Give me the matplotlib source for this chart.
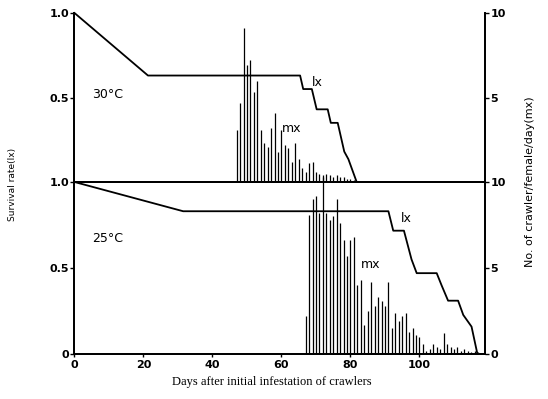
import matplotlib
matplotlib.use("Agg")
import matplotlib.pyplot as plt

# ---- data ----
# 30 C survival (lx) curve
days_lx30 = [0, 21.3, 65.4, 66.3, 68.8, 70.2, 73.4, 74.3, 76.3, 78.2, 79.4, 81.8]
lx30 = [1.0, 0.63, 0.63, 0.55, 0.55, 0.43, 0.43, 0.35, 0.35, 0.18, 0.135, 0.0]
# 30 C fecundity (mx), days 47..81
days_mx30 = list(range(47, 82))
mx30 = [3.1, 4.7, 9.1, 6.9, 7.2, 5.3, 6.0, 3.1, 2.3, 2.1,
        3.2, 4.1, 1.8, 3.1, 2.2, 2.0, 1.2, 2.3, 1.35, 0.8,
        0.6, 1.1, 1.2, 0.6, 0.5, 0.4, 0.5, 0.4, 0.3, 0.4,
        0.3, 0.3, 0.2, 0.2, 0.1]

# 25 C survival (lx) curve
days_lx25 = [0, 31.5, 91.0, 92.4, 95.5, 97.7, 99.2, 105.0, 106.4, 108.3, 111.2, 112.7, 115.1, 116.8]
lx25 = [1.0, 0.83, 0.83, 0.717, 0.717, 0.55, 0.47, 0.47, 0.40, 0.31, 0.31, 0.227, 0.159, 0.0]
# 25 C fecundity (mx), days 67..117
days_mx25 = list(range(67, 118))
mx25 = [2.2, 8.1, 9.0, 9.2, 8.2, 10.3, 8.2, 7.8, 8.0, 9.0,
        7.6, 6.6, 5.7, 6.6, 6.8, 4.0, 4.3, 1.7, 2.5, 4.2,
        2.8, 3.3, 3.1, 2.8, 4.2, 1.5, 2.4, 1.9, 2.2, 2.4,
        1.3, 1.5, 1.1, 1.0, 0.6, 0.2, 0.3, 0.6, 0.4, 0.3,
        1.2, 0.6, 0.4, 0.3, 0.4, 0.2, 0.3, 0.2, 0.1, 0.2,
        0.1]

x_ticks = [0, 20, 40, 60, 80, 100]

# ---- figure ----
W, H = 548, 399
fig = plt.figure(figsize=(W / 100, H / 100), dpi=100)
L, R = 74.5 / W, 485 / W
ax_top = fig.add_axes([L, 1 - 182 / H, R - L, (182 - 13) / H])
ax_bot = fig.add_axes([L, 1 - 354 / H, R - L, (354 - 182) / H])

tick_font = dict(fontsize=8, fontweight="bold", family="DejaVu Sans")
lw_axis = 1.3

for ax in (ax_top, ax_bot):
    ax.set_xlim(0, 119)
    ax.set_ylim(0, 1.0)
    for s in ax.spines.values():
        s.set_linewidth(lw_axis)
    ax.tick_params(axis="y", direction="out", length=3, width=1.0, pad=1)

ax_top.spines["top"].set_visible(False)
ax_top.set_xticks([])
ax_top.set_yticks([0.5, 1.0])
ax_top.set_yticklabels(["0.5", "1.0"], **tick_font)

ax_bot.set_yticks([0, 0.5, 1.0])
ax_bot.set_yticklabels(["0", "0.5", "1.0"], **tick_font)
ax_bot.set_xticks(x_ticks)
ax_bot.set_xticklabels([str(v) for v in x_ticks], **tick_font)
ax_bot.tick_params(axis="x", direction="out", length=2, width=1.0, pad=2)

# twin axes for mx
tw_top = ax_top.twinx()
tw_bot = ax_bot.twinx()
for tw in (tw_top, tw_bot):
    tw.set_ylim(0, 10)
    tw.set_xlim(0, 119)
    tw.tick_params(axis="y", direction="out", length=3, width=1.0, pad=1)
    for s in tw.spines.values():
        s.set_linewidth(lw_axis)
tw_top.spines["top"].set_visible(False)
tw_top.set_yticks([5, 10])
tw_top.set_yticklabels(["5", "10"], **tick_font)
tw_bot.set_yticks([0, 5, 10])
tw_bot.set_yticklabels(["0", "5", "10"], **tick_font)

# bars
tw_top.vlines(days_mx30, 0, mx30, colors="black", linewidth=0.9, clip_on=False)
tw_bot.vlines(days_mx25, 0, mx25, colors="black", linewidth=0.9, clip_on=False)

# lx lines
ax_top.plot(days_lx30, lx30, color="black", linewidth=1.3, clip_on=False)
ax_bot.plot(days_lx25, lx25, color="black", linewidth=1.3, clip_on=False)

# annotations
txt = dict(fontsize=9, family="DejaVu Sans", ha="center", va="center")
def px(ax, x, y):
    return fig.transFigure.inverted().transform(fig.transFigure.transform((x / W, 1 - y / H)))

fig.text(108 / W, 1 - 94 / H, "30°C", **txt)
fig.text(108 / W, 1 - 238 / H, "25°C", **txt)
fig.text(317 / W, 1 - 82 / H, "lx", **txt)
fig.text(292 / W, 1 - 129 / H, "mx", **txt)
fig.text(406 / W, 1 - 218 / H, "lx", **txt)
fig.text(371 / W, 1 - 264 / H, "mx", **txt)

fig.text(12.5 / W, 1 - 184 / H, "Survival rate(lx)", rotation=90,
         fontsize=6.5, family="DejaVu Sans", ha="center", va="center")
fig.text(530 / W, 1 - 182 / H, "No. of crawler/female/day(mx)", rotation=90,
         fontsize=8, family="DejaVu Sans", ha="center", va="center")
fig.text(272 / W, 1 - 382 / H, "Days after initial infestation of crawlers",
         fontsize=9, family="Liberation Serif", ha="center", va="center")

fig.savefig("out.png", dpi=100)
